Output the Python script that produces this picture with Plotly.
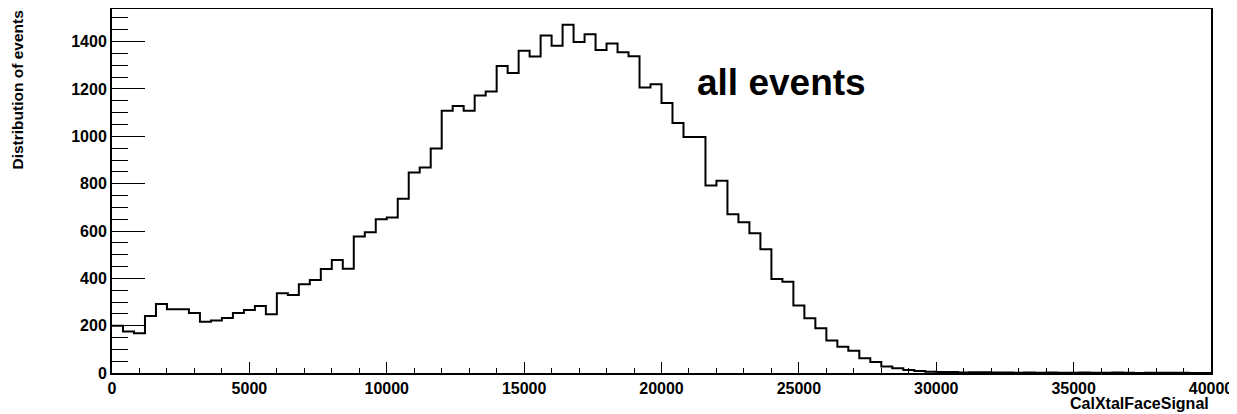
import plotly.graph_objects as go

# Histogram definition (100 bins, 0..40000)
x_min = 0
x_max = 40000
n_bins = 100
counts = [200, 175, 168, 241, 292, 269, 269, 254, 217, 222,
          232, 254, 266, 283, 248, 337, 330, 375, 393, 439,
          477, 440, 577, 595, 650, 657, 736, 847, 868, 949,
          1108, 1128, 1108, 1172, 1189, 1297, 1268, 1362, 1337, 1426,
          1383, 1471, 1399, 1431, 1365, 1392, 1355, 1338, 1206, 1220,
          1141, 1056, 997, 997, 792, 812, 671, 637, 591, 523,
          397, 386, 285, 231, 189, 137, 111, 94, 62, 46,
          27, 20, 13, 8, 5, 4, 4, 2, 3, 3,
          2, 2, 1, 2, 1, 2, 1, 1, 2, 1,
          1, 2, 1, 0, 1, 1, 1, 1, 0, 0]

x_title = "CalXtalFaceSignal"
y_title = "Distribution of events"
label_text = "all events"

bw = (x_max - x_min) / n_bins
edges = [x_min + i * bw for i in range(n_bins + 1)]
xs = edges
ys = counts + [counts[-1]]

FONT = "Liberation Sans, Arial, Helvetica, sans-serif"

# the page body adds an 8px offset; the figure is sized to fit the window
W, H = 1229, 406
L, T, R, B = 104, 1, 26, 41

fig = go.Figure()
fig.add_trace(go.Scatter(x=xs, y=ys, mode="lines", line=dict(shape="hv", color="black", width=2),
                         hoverinfo="skip", showlegend=False, cliponaxis=False))

fig.update_layout(
    width=W, height=H,
    margin=dict(l=L, r=R, t=T, b=B, autoexpand=False),
    paper_bgcolor="white", plot_bgcolor="white",
    font=dict(family=FONT, color="black"),
    xaxis=dict(range=[x_min, x_max], showgrid=False, zeroline=False, automargin=False,
               showline=True, linecolor="black", linewidth=2, mirror=True,
               ticks="inside", ticklen=11, tickwidth=1.3, tickcolor="black",
               dtick=5000, tick0=0, tickformat="d", ticklabeloverflow="allow",
               tickfont=dict(family=FONT, size=16, weight="bold"),
               minor=dict(dtick=1000, ticks="inside", ticklen=5.5, tickwidth=1.3, tickcolor="black", showgrid=False)),
    yaxis=dict(range=[0, 1538], showgrid=False, zeroline=False, automargin=False,
               showline=True, linecolor="black", linewidth=2, mirror=True,
               ticks="inside", ticklen=33, tickwidth=1.3, tickcolor="black",
               dtick=200, tick0=0, tickformat="d",
               tickfont=dict(family=FONT, size=16, weight="bold"),
               minor=dict(dtick=50, ticks="inside", ticklen=16, tickwidth=1.3, tickcolor="black", showgrid=False)),
)

plot_w = W - L - R
plot_h = H - T - B

fig.add_annotation(text=x_title, xref="paper", yref="paper", x=1.0, y=-30 / plot_h,
                   xanchor="right", yanchor="middle", showarrow=False,
                   font=dict(family=FONT, size=16, weight="bold", color="black"))
fig.add_annotation(text=y_title, xref="paper", yref="paper", x=-(112 - 17) / plot_w, y=1.0,
                   xanchor="center", yanchor="top", textangle=-90, showarrow=False,
                   font=dict(family=FONT, size=15.5, weight="bold", color="black"))
fig.add_annotation(text=label_text, xref="x", yref="y", x=24350, y=1226,
                   xanchor="center", yanchor="middle", showarrow=False,
                   font=dict(family=FONT, size=37, weight="bold", color="black"))

fig.write_html("out.html")
